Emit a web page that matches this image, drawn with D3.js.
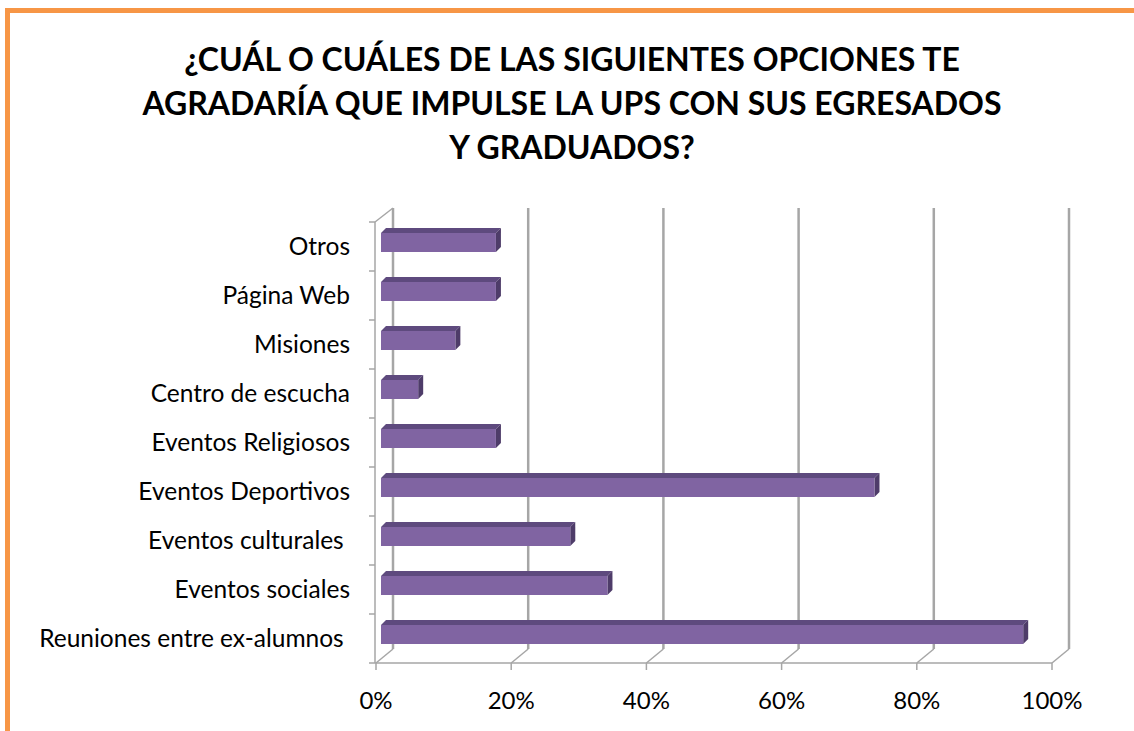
<!DOCTYPE html>
<html>
<head>
<meta charset="utf-8">
<script src="https://cdn.jsdelivr.net/npm/d3@7"></script>
<style>
  body { margin: 0; background: #fff; }
  text { font-family: Lato, "Open Sans", sans-serif; fill: #000; }
  .titulo { font-weight: bold; font-size: 32px; }
  .cat { font-size: 24.5px; white-space: pre; }
  .tick { font-size: 24px; }
</style>
</head>
<body>
<svg id="chart" width="1134" height="731"></svg>
<script>
// datos del grafico
var categorias = ["Otros", "Página Web", "Misiones", "Centro de escucha", "Eventos Religiosos",
                  "Eventos Deportivos", "Eventos culturales ", "Eventos sociales", "Reuniones entre ex-alumnos "];
var valores = [0.17, 0.17, 0.11, 0.055, 0.17, 0.73, 0.28, 0.335, 0.95];
var ticksX = [0, 0.2, 0.4, 0.6, 0.8, 1.0];
var tituloLineas = ["¿CUÁL O CUÁLES DE LAS SIGUIENTES OPCIONES TE",
                    "AGRADARÍA QUE IMPULSE LA UPS CON SUS EGRESADOS",
                    "Y GRADUADOS?"];

var svg = d3.select("#chart");

// marco naranja
svg.append("rect")
  .attr("x", 7.5).attr("y", 10.5)
  .attr("width", 1200).attr("height", 800)
  .attr("fill", "none")
  .attr("stroke", "#F79646")
  .attr("stroke-width", 5);

// titulo
svg.selectAll("text.titulo")
  .data(tituloLineas)
  .enter().append("text")
  .attr("class", "titulo")
  .attr("x", 572)
  .attr("y", function(d, i) { return 71 + i * 44; })
  .attr("text-anchor", "middle")
  .text(function(d) { return d; });

// escalas (plano frontal)
var x = d3.scaleLinear().domain([0, 1]).range([376, 1052]);
var y = d3.scaleBand().domain(categorias).range([222, 663]);
var depthX = 17, depthY = -14;   // desplazamiento fondo
var barOX = 5, barOY = -4;       // cara frontal de la barra
var barDX = 5, barDY = -5;       // profundidad de la barra
var barH = 19;

var grid = svg.append("g");
var yTop = y.range()[0], yBot = y.range()[1];

// lineas de cuadricula en la pared del fondo
ticksX.forEach(function(t) {
  grid.append("line")
    .attr("x1", x(t) + depthX).attr("x2", x(t) + depthX)
    .attr("y1", yTop + depthY).attr("y2", yBot + depthY)
    .attr("stroke", "#A6A6A6").attr("stroke-width", 2.5);
  // diagonal del suelo
  grid.append("line")
    .attr("x1", x(t)).attr("y1", yBot)
    .attr("x2", x(t) + depthX).attr("y2", yBot + depthY)
    .attr("stroke", "#A6A6A6").attr("stroke-width", 1.5);
  // marca del eje
  grid.append("line")
    .attr("x1", x(t)).attr("x2", x(t))
    .attr("y1", yBot).attr("y2", yBot + 7)
    .attr("stroke", "#A6A6A6").attr("stroke-width", 1.5);
});

// pared izquierda
grid.append("line")
  .attr("x1", x(0) - 1).attr("x2", x(0) - 1)
  .attr("y1", yTop).attr("y2", yBot)
  .attr("stroke", "#A6A6A6").attr("stroke-width", 1.5);
grid.append("line")
  .attr("x1", x(0) - 1).attr("y1", yTop)
  .attr("x2", x(0) + depthX).attr("y2", yTop + depthY)
  .attr("stroke", "#A6A6A6").attr("stroke-width", 1.5);
// eje x frontal
grid.append("line")
  .attr("x1", x(0) - 1).attr("x2", x(1))
  .attr("y1", yBot).attr("y2", yBot)
  .attr("stroke", "#A6A6A6").attr("stroke-width", 1.5);

// marcas de categoria
var bordes = categorias.map(function(c) { return y(c); }).concat([yBot]);
bordes.forEach(function(b) {
  grid.append("line")
    .attr("x1", x(0) - 7).attr("x2", x(0) - 1)
    .attr("y1", b).attr("y2", b)
    .attr("stroke", "#A6A6A6").attr("stroke-width", 1.5);
});

// barras 3D
var bars = svg.selectAll("g.barra")
  .data(categorias)
  .enter().append("g")
  .attr("class", "barra");

function frontY(c) { return y(c) + y.bandwidth() / 2 + barOY - barH / 2; }
function x0() { return x(0) + barOX; }
function x1(i) { return x(valores[i]) + barOX; }

// cara superior
bars.append("path")
  .attr("fill", "#5E4A7E")
  .attr("d", function(c, i) {
    var fy = frontY(c);
    return "M" + x0() + "," + fy + "L" + (x0() + barDX) + "," + (fy + barDY) +
      "L" + (x1(i) + barDX) + "," + (fy + barDY) + "L" + x1(i) + "," + fy + "Z";
  });
// cara lateral
bars.append("path")
  .attr("fill", "#4E3C69")
  .attr("d", function(c, i) {
    var fy = frontY(c);
    return "M" + x1(i) + "," + fy + "L" + (x1(i) + barDX) + "," + (fy + barDY) +
      "L" + (x1(i) + barDX) + "," + (fy + barDY + barH) + "L" + x1(i) + "," + (fy + barH) + "Z";
  });
// cara frontal
bars.append("rect")
  .attr("fill", "#8064A2")
  .attr("x", x0())
  .attr("y", function(c) { return frontY(c); })
  .attr("width", function(c, i) { return x1(i) - x0(); })
  .attr("height", barH);

// etiquetas de categoria
svg.selectAll("text.cat")
  .data(categorias)
  .enter().append("text")
  .attr("class", "cat")
  .attr("x", 350)
  .attr("y", function(c) { return y(c) + y.bandwidth() / 2 + 8; })
  .attr("text-anchor", "end")
  .text(function(c) { return c; });

// etiquetas eje x
svg.selectAll("text.tick")
  .data(ticksX)
  .enter().append("text")
  .attr("class", "tick")
  .attr("x", function(t) { return x(t); })
  .attr("y", 709)
  .attr("text-anchor", "middle")
  .text(d3.format(".0%"));
</script>
</body>
</html>
